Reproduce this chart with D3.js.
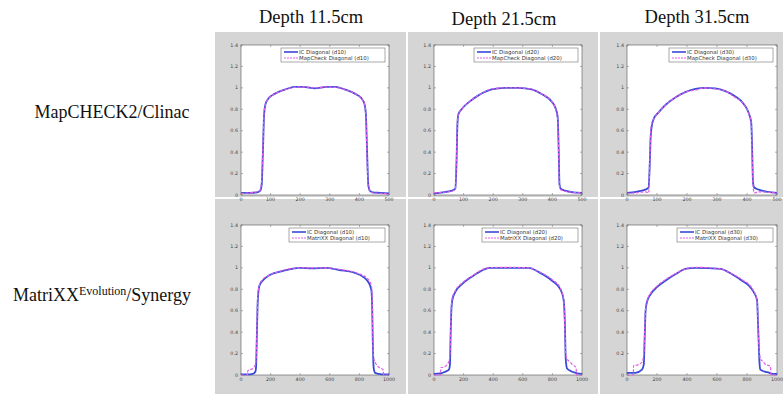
<!DOCTYPE html>
<html>
<head>
<meta charset="utf-8">
<title>Diagonal profiles</title>
<script src="https://d3js.org/d3.v7.min.js"></script>
<style>
  body { margin: 0; background: #fff; }
  svg { display: block; }
</style>
</head>
<body>
<div id="chart"></div>
<script>
// column / row headers
var depths = ["Depth 11.5cm", "Depth 21.5cm", "Depth 31.5cm"];
var depthTags = ["d10", "d20", "d30"];
var devices = ["MapCHECK2/Clinac", "MatriXX"];
var deviceLegend = ["MapCheck", "MatriXX"];

var yTicks = [0, 0.2, 0.4, 0.6, 0.8, 1, 1.2, 1.4];
var xTicksTop = [0, 100, 200, 300, 400, 500];
var xTicksBottom = [0, 200, 400, 600, 800, 1000];

// MapCHECK2 row, positions 0..500
var mc10X = [0, 30, 55, 65, 70, 74, 78, 82, 90, 105, 125, 150, 180, 210, 250, 290, 320, 350, 375, 395, 410, 418, 422, 426, 430, 435, 445, 470, 500];
var mc10IC = [0.02, 0.02, 0.025, 0.04, 0.1, 0.4, 0.75, 0.84, 0.89, 0.93, 0.96, 0.985, 1.01, 1.01, 0.995, 1.01, 1.01, 0.985, 0.96, 0.93, 0.89, 0.84, 0.75, 0.4, 0.1, 0.04, 0.025, 0.02, 0.015];
var mc10Dev = [0.015, 0.02, 0.03, 0.05, 0.15, 0.45, 0.77, 0.84, 0.89, 0.93, 0.96, 0.985, 1.005, 1.01, 1.0, 1.01, 1.005, 0.985, 0.96, 0.93, 0.89, 0.84, 0.73, 0.35, 0.08, 0.04, 0.02, 0.015, 0.01];

var mc20X = [0, 30, 60, 72, 76, 79, 82, 93, 115, 150, 195, 240, 285, 330, 365, 398, 412, 418, 421, 424, 428, 443, 470, 500];
var mc20IC = [0.015, 0.025, 0.04, 0.06, 0.3, 0.65, 0.75, 0.8, 0.86, 0.93, 0.985, 1.0, 1.0, 0.985, 0.94, 0.87, 0.8, 0.72, 0.45, 0.1, 0.06, 0.04, 0.025, 0.02];
var mc20Dev = [0.02, 0.025, 0.035, 0.055, 0.35, 0.68, 0.75, 0.8, 0.86, 0.93, 0.99, 1.0, 1.0, 0.985, 0.94, 0.87, 0.79, 0.7, 0.4, 0.08, 0.05, 0.035, 0.025, 0.02];

var mc30X = [0, 30, 61, 72, 76, 79, 83, 89, 105, 128, 161, 194, 228, 261, 294, 328, 361, 389, 405, 414, 417, 420, 424, 439, 470, 500];
var mc30IC = [0.02, 0.03, 0.05, 0.07, 0.3, 0.55, 0.65, 0.71, 0.77, 0.84, 0.91, 0.96, 0.99, 1.0, 0.995, 0.97, 0.92, 0.85, 0.77, 0.68, 0.45, 0.12, 0.07, 0.05, 0.03, 0.02];
var mc30Dev = [0.015, 0.02, 0.03, 0.02, 0.3, 0.6, 0.67, 0.71, 0.77, 0.84, 0.91, 0.96, 0.98, 1.0, 0.99, 0.97, 0.91, 0.85, 0.77, 0.67, 0.4, 0.1, 0.02, 0.03, 0.025, 0.02];

// MatriXX row, positions 0..1000
var mx10X = [0, 44, 46, 79, 97, 102, 106, 112, 118, 124, 146, 191, 281, 393, 483, 573, 663, 775, 854, 880, 886, 890, 894, 898, 906, 933, 960, 964, 1000];
var mx10IC = [0.005, 0.005, 0.005, 0.01, 0.03, 0.08, 0.3, 0.65, 0.78, 0.83, 0.88, 0.93, 0.97, 1.0, 0.995, 1.0, 0.98, 0.95, 0.88, 0.8, 0.65, 0.35, 0.12, 0.05, 0.02, 0.01, 0.005, 0.005, 0.005];
var mx10Dev = [0.0, 0.0, 0.04, 0.06, 0.1, 0.15, 0.35, 0.7, 0.8, 0.84, 0.89, 0.93, 0.975, 1.0, 1.0, 1.0, 0.985, 0.955, 0.9, 0.84, 0.72, 0.4, 0.2, 0.15, 0.12, 0.07, 0.05, 0.0, 0.0];

var mx20X = [0, 44, 46, 56, 90, 101, 108, 112, 118, 124, 146, 191, 258, 348, 371, 483, 640, 708, 798, 854, 876, 884, 890, 899, 921, 933, 960, 964, 1000];
var mx20IC = [0.01, 0.015, 0.015, 0.02, 0.04, 0.05, 0.1, 0.35, 0.62, 0.7, 0.78, 0.85, 0.92, 0.99, 1.0, 1.0, 1.0, 0.96, 0.88, 0.8, 0.7, 0.5, 0.15, 0.06, 0.04, 0.03, 0.02, 0.015, 0.01];
var mx20Dev = [0.0, 0.0, 0.07, 0.07, 0.1, 0.13, 0.2, 0.4, 0.65, 0.72, 0.79, 0.86, 0.925, 0.995, 1.0, 1.005, 1.0, 0.965, 0.89, 0.81, 0.7, 0.45, 0.2, 0.15, 0.12, 0.1, 0.07, 0.0, 0.0];

var mx30X = [0, 42, 44, 56, 100, 112, 118, 124, 133, 156, 200, 256, 322, 389, 456, 622, 700, 767, 833, 867, 873, 878, 884, 889, 911, 922, 957, 960, 1000];
var mx30IC = [0.02, 0.02, 0.02, 0.02, 0.05, 0.1, 0.35, 0.6, 0.68, 0.75, 0.82, 0.88, 0.94, 0.99, 1.0, 0.99, 0.94, 0.88, 0.8, 0.7, 0.5, 0.3, 0.1, 0.05, 0.035, 0.03, 0.015, 0.012, 0.01];
var mx30Dev = [0.0, 0.0, 0.09, 0.09, 0.12, 0.2, 0.4, 0.62, 0.69, 0.76, 0.83, 0.89, 0.945, 0.99, 1.005, 0.99, 0.945, 0.89, 0.81, 0.7, 0.5, 0.3, 0.2, 0.15, 0.12, 0.1, 0.08, 0.0, 0.0];

var panels = [
  [{ x: mc10X, ic: mc10IC, dev: mc10Dev }, { x: mc20X, ic: mc20IC, dev: mc20Dev }, { x: mc30X, ic: mc30IC, dev: mc30Dev }],
  [{ x: mx10X, ic: mx10IC, dev: mx10Dev }, { x: mx20X, ic: mx20IC, dev: mx20Dev }, { x: mx30X, ic: mx30IC, dev: mx30Dev }]
];
var rowTicks = [xTicksTop, xTicksBottom];

// layout
var W = 783, H = 394;
var cellX = [[215, 406], [408, 598], [600, 783]];
var cellY = [[32, 197], [199, 394]];
var plotX = [[241, 389], [434, 582], [627, 777]];
var plotY = [[45, 195], [225, 375]];
var icColor = "#3a4ad8", devColor = "#e060e6";

var svg = d3.select("#chart").append("svg")
  .attr("width", W).attr("height", H);

svg.append("rect").attr("width", W).attr("height", H).attr("fill", "#fff");

// gray cells
cellY.forEach(function (cy) {
  cellX.forEach(function (cx) {
    svg.append("rect")
      .attr("x", cx[0]).attr("y", cy[0])
      .attr("width", cx[1] - cx[0]).attr("height", cy[1] - cy[0])
      .attr("fill", "#d5d5d5");
  });
});

// column titles
var titleX = [311, 504, 697], titleY = [23, 25, 23];
svg.selectAll(".title").data(depths).enter().append("text")
  .attr("x", function (d, i) { return titleX[i]; })
  .attr("y", function (d, i) { return titleY[i]; })
  .attr("text-anchor", "middle")
  .attr("font-family", "Liberation Serif, Times New Roman, serif")
  .attr("font-size", 18.5)
  .attr("fill", "#111")
  .text(function (d) { return d; });

// row labels
svg.append("text")
  .attr("x", 112).attr("y", 118)
  .attr("text-anchor", "middle")
  .attr("font-family", "Liberation Serif, Times New Roman, serif")
  .attr("font-size", 18).attr("fill", "#111")
  .text(devices[0]);

var lbl = svg.append("text")
  .attr("x", 102).attr("y", 301)
  .attr("text-anchor", "middle")
  .attr("font-family", "Liberation Serif, Times New Roman, serif")
  .attr("font-size", 18).attr("fill", "#111");
lbl.append("tspan").text(devices[1]);
lbl.append("tspan").attr("font-size", 12).attr("dy", -6).text("Evolution");
lbl.append("tspan").attr("dy", 6).text("/Synergy");

// panels
panels.forEach(function (row, r) {
  row.forEach(function (p, c) {
    var x0 = plotX[c][0], x1 = plotX[c][1];
    var y0 = plotY[r][0], y1 = plotY[r][1];
    var xTicks = rowTicks[r];
    var x = d3.scaleLinear().domain([0, xTicks[xTicks.length - 1]]).range([x0, x1]);
    var y = d3.scaleLinear().domain([0, 1.4]).range([y1, y0]);

    var g = svg.append("g");
    g.append("rect")
      .attr("x", x0).attr("y", y0)
      .attr("width", x1 - x0).attr("height", y1 - y0)
      .attr("fill", "#fff").attr("stroke", "#555").attr("stroke-width", 0.6);

    // inward ticks on all four sides (matlab style)
    var tick = 2;
    xTicks.forEach(function (t) {
      g.append("line").attr("x1", x(t)).attr("x2", x(t)).attr("y1", y1).attr("y2", y1 - tick)
        .attr("stroke", "#666").attr("stroke-width", 0.5);
      g.append("line").attr("x1", x(t)).attr("x2", x(t)).attr("y1", y0).attr("y2", y0 + tick)
        .attr("stroke", "#666").attr("stroke-width", 0.5);
      g.append("text").attr("x", x(t)).attr("y", y1 + 6)
        .attr("text-anchor", "middle").attr("font-family", "DejaVu Sans, sans-serif")
        .attr("font-size", 4.8).attr("fill", "#444").text(t);
    });
    yTicks.forEach(function (t) {
      g.append("line").attr("x1", x0).attr("x2", x0 + tick).attr("y1", y(t)).attr("y2", y(t))
        .attr("stroke", "#666").attr("stroke-width", 0.5);
      g.append("line").attr("x1", x1).attr("x2", x1 - tick).attr("y1", y(t)).attr("y2", y(t))
        .attr("stroke", "#666").attr("stroke-width", 0.5);
      g.append("text").attr("x", x0 - 3).attr("y", y(t) + 1.5)
        .attr("text-anchor", "end").attr("font-family", "DejaVu Sans, sans-serif")
        .attr("font-size", 4.8).attr("fill", "#444").text(t);
    });

    var pts = function (vals) { return p.x.map(function (v, i) { return [v, vals[i]]; }); };
    var line = d3.line()
      .x(function (d) { return x(d[0]); })
      .y(function (d) { return y(d[1]); })
      .curve(d3.curveMonotoneX);

    g.append("path").attr("d", line(pts(p.ic)))
      .attr("fill", "none").attr("stroke", icColor).attr("stroke-width", 1.8);
    g.append("path").attr("d", line(pts(p.dev)))
      .attr("fill", "none").attr("stroke", devColor).attr("stroke-width", 1.2)
      .attr("stroke-dasharray", "3,1.5");

    // legend
    var names = ["IC Diagonal (" + depthTags[c] + ")", deviceLegend[r] + " Diagonal (" + depthTags[c] + ")"];
    var lw = r === 0 ? 104 : 96, lh = 14;
    var lx = x1 - lw - 4, ly = y0 + 3;
    g.append("rect").attr("x", lx).attr("y", ly).attr("width", lw).attr("height", lh)
      .attr("fill", "#fff").attr("stroke", "#555").attr("stroke-width", 0.5);
    names.forEach(function (n, i) {
      var yy = ly + 4 + i * 6;
      g.append("line").attr("x1", lx + 3).attr("x2", lx + 17).attr("y1", yy).attr("y2", yy)
        .attr("stroke", i === 0 ? icColor : devColor).attr("stroke-width", i === 0 ? 1.6 : 1.2)
        .attr("stroke-dasharray", i === 0 ? null : "2,1");
      g.append("text").attr("x", lx + 18).attr("y", yy + 1.8)
        .attr("font-family", "DejaVu Sans, sans-serif").attr("font-size", 5.4)
        .attr("fill", "#333").text(n);
    });
  });
});
</script>
</body>
</html>
